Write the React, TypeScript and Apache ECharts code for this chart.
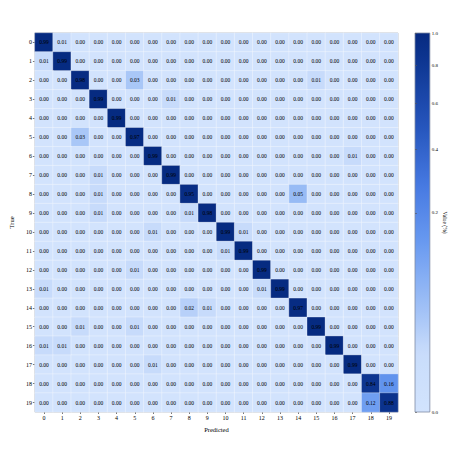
import React, { useEffect, useRef } from "react";
import * as echarts from "echarts";

// ---- data ----
const trueLabels = ["0","1","2","3","4","5","6","7","8","9","10","11","12","13","14","15","16","17","18","19"];
const predictedLabels = ["0","1","2","3","4","5","6","7","8","9","10","11","12","13","14","15","16","17","18","19"];

// rows = true class, columns = predicted class
const row0 = [0.99,0.01,0,0,0,0,0,0,0,0,0,0,0,0,0,0,0,0,0,0];
const row1 = [0.01,0.99,0,0,0,0,0,0,0,0,0,0,0,0,0,0,0,0,0,0];
const row2 = [0,0,0.98,0,0,0.03,0,0,0,0,0,0,0,0,0,0.01,0,0,0,0];
const row3 = [0,0,0,0.99,0,0,0,0.01,0,0,0,0,0,0,0,0,0,0,0,0];
const row4 = [0,0,0,0,0.99,0,0,0,0,0,0,0,0,0,0,0,0,0,0,0];
const row5 = [0,0,0.03,0,0,0.97,0,0,0,0,0,0,0,0,0,0,0,0,0,0];
const row6 = [0,0,0,0,0,0,0.99,0,0,0,0,0,0,0,0,0,0,0.01,0,0];
const row7 = [0,0,0,0.01,0,0,0,0.99,0,0,0,0,0,0,0,0,0,0,0,0];
const row8 = [0,0,0,0.01,0,0,0,0,0.95,0,0,0,0,0,0.05,0,0,0,0,0];
const row9 = [0,0,0,0.01,0,0,0,0,0.01,0.98,0,0,0,0,0,0,0,0,0,0];
const row10 = [0,0,0,0,0,0,0.01,0,0,0,0.99,0.01,0,0,0,0,0,0,0,0];
const row11 = [0,0,0,0,0,0,0,0,0,0,0.01,0.99,0,0,0,0,0,0,0,0];
const row12 = [0,0,0,0,0,0.01,0,0,0,0,0,0,0.99,0,0,0,0,0,0,0];
const row13 = [0.01,0,0,0,0,0,0,0,0,0,0,0,0.01,0.99,0,0,0,0,0,0];
const row14 = [0,0,0,0,0,0,0,0,0.02,0.01,0,0,0,0,0.97,0,0,0,0,0];
const row15 = [0,0,0.01,0,0,0.01,0,0,0,0,0,0,0,0,0,0.99,0,0,0,0];
const row16 = [0.01,0.01,0,0,0,0,0,0,0,0,0,0,0,0,0,0,0.99,0,0,0];
const row17 = [0,0,0,0,0,0,0.01,0,0,0,0,0,0,0,0,0,0,0.99,0,0];
const row18 = [0,0,0,0,0,0,0,0,0,0,0,0,0,0,0,0,0,0,0.84,0.16];
const row19 = [0,0,0,0,0,0,0,0,0,0,0,0,0,0,0,0,0,0,0.12,0.88];
const confusion = [row0,row1,row2,row3,row4,row5,row6,row7,row8,row9,row10,row11,row12,row13,row14,row15,row16,row17,row18,row19];

const colorbarTicks = [0, 0.2, 0.4, 0.6, 0.8, 1.0];
const gamma = 0.4; // power-norm of the colour scale

// ---- style helpers ----
const FONT = "Liberation Serif";
const colorStops: [number, string][] = [
  [0, "#d2e3fd"],
  [0.16, "#c8dcfb"],
  [0.25, "#a8c6f7"],
  [0.45, "#6899f0"],
  [0.6, "#4679e1"],
  [0.75, "#2656bd"],
  [0.93, "#0d3591"],
  [1, "#062a80"],
];
function hexToRgb(h: string) {
  const n = parseInt(h.slice(1), 16);
  return [(n >> 16) & 255, (n >> 8) & 255, n & 255];
}
function sampleColor(t: number) {
  for (let i = 0; i < colorStops.length - 1; i++) {
    const [t0, c0] = colorStops[i];
    const [t1, c1] = colorStops[i + 1];
    if (t <= t1) {
      const f = (t - t0) / (t1 - t0);
      const a = hexToRgb(c0), b = hexToRgb(c1);
      const r = a.map((v, k) => Math.round(v + (b[k] - v) * f));
      return `rgb(${r[0]},${r[1]},${r[2]})`;
    }
  }
  return colorStops[colorStops.length - 1][1];
}
const paletteSteps = Array.from({ length: 41 }, (_, i) => sampleColor(i / 40));

export default function App() {
  const ref = useRef<HTMLDivElement>(null);
  useEffect(() => {
    if (!ref.current) return;
    const chart = echarts.init(ref.current, null, { renderer: "svg" });
    const data: any[] = [];
    confusion.forEach((row, i) => {
      row.forEach((v, j) => {
        data.push([j, i, Math.pow(v, gamma), v]);
      });
    });
    const tickPos = colorbarTicks.map((t) => Math.pow(t, gamma));
    const barGradient = new echarts.graphic.LinearGradient(
      0, 1, 0, 0,
      paletteSteps.map((c, i) => ({ offset: i / (paletteSteps.length - 1), color: c }))
    );
    chart.setOption({
      animation: false,
      backgroundColor: "#ffffff",
      textStyle: { fontFamily: FONT },
      grid: [
        { left: 19.5, top: 33, width: 378.5, height: 379, show: true, borderColor: "#b0b0b0", borderWidth: 1, backgroundColor: "transparent" },
        { left: 415, top: 33, width: 19, height: 379, show: true, borderColor: "#7f8aa3", borderWidth: 0.8, backgroundColor: barGradient },
      ],
      xAxis: [
        {
          type: "category",
          gridIndex: 0,
          data: predictedLabels,
          position: "bottom",
          axisLine: { show: false },
          axisTick: { show: true, alignWithLabel: true, length: 2, lineStyle: { color: "#555", width: 0.8 } },
          axisLabel: { fontSize: 6, margin: 3, color: "#000", fontFamily: FONT },
          splitLine: { show: false },
          name: "Predicted",
          nameLocation: "middle",
          nameGap: 11,
          nameTextStyle: { fontSize: 6.5, color: "#000", fontFamily: FONT },
        },
        { type: "value", gridIndex: 1, show: false, min: 0, max: 1 },
      ],
      yAxis: [
        {
          type: "category",
          gridIndex: 0,
          data: trueLabels,
          inverse: true,
          axisLine: { show: false },
          axisTick: { show: true, alignWithLabel: true, length: 2, lineStyle: { color: "#555", width: 0.8 } },
          axisLabel: { fontSize: 6, margin: 3, color: "#000", fontFamily: FONT },
          splitLine: { show: false },
          name: "True",
          nameLocation: "middle",
          nameGap: 14,
          nameRotate: 90,
          nameTextStyle: { fontSize: 6.5, color: "#000", fontFamily: FONT },
        },
        {
          type: "value",
          gridIndex: 1,
          min: 0,
          max: 1,
          position: "right",
          axisLine: { show: false },
          splitLine: { show: false },
          axisTick: { show: true, customValues: tickPos, length: 2, lineStyle: { color: "#555", width: 0.6 } },
          axisLabel: {
            customValues: tickPos,
            formatter: (v: number) => Math.pow(v, 1 / gamma).toFixed(1),
            fontSize: 5,
            margin: 2,
            color: "#000",
            fontFamily: FONT,
          },
          name: "Value (%)",
          nameLocation: "middle",
          nameRotate: -90,
          nameGap: 5,
          nameTextStyle: { fontSize: 5.5, color: "#000", fontFamily: FONT },
        },
      ],
      visualMap: {
        type: "continuous",
        show: false,
        min: 0,
        max: 1,
        dimension: 2,
        seriesIndex: 0,
        inRange: { color: paletteSteps },
      },
      series: [
        {
          type: "heatmap",
          xAxisIndex: 0,
          yAxisIndex: 0,
          data,
          label: {
            show: true,
            formatter: (p: any) => p.value[3].toFixed(2),
            fontSize: 5.5,
            color: "#000",
            textBorderWidth: 0,
            textBorderColor: "transparent",
            fontFamily: FONT,
          },
          itemStyle: { borderColor: "rgba(255,255,255,0.55)", borderWidth: 0.6 },
          emphasis: { disabled: true },
        },
      ],
    });
    return () => chart.dispose();
  }, []);
  return (
    <div
      ref={ref}
      style={{ position: "fixed", left: 0, top: 0, width: 449, height: 449, background: "#fff" }}
    />
  );
}
